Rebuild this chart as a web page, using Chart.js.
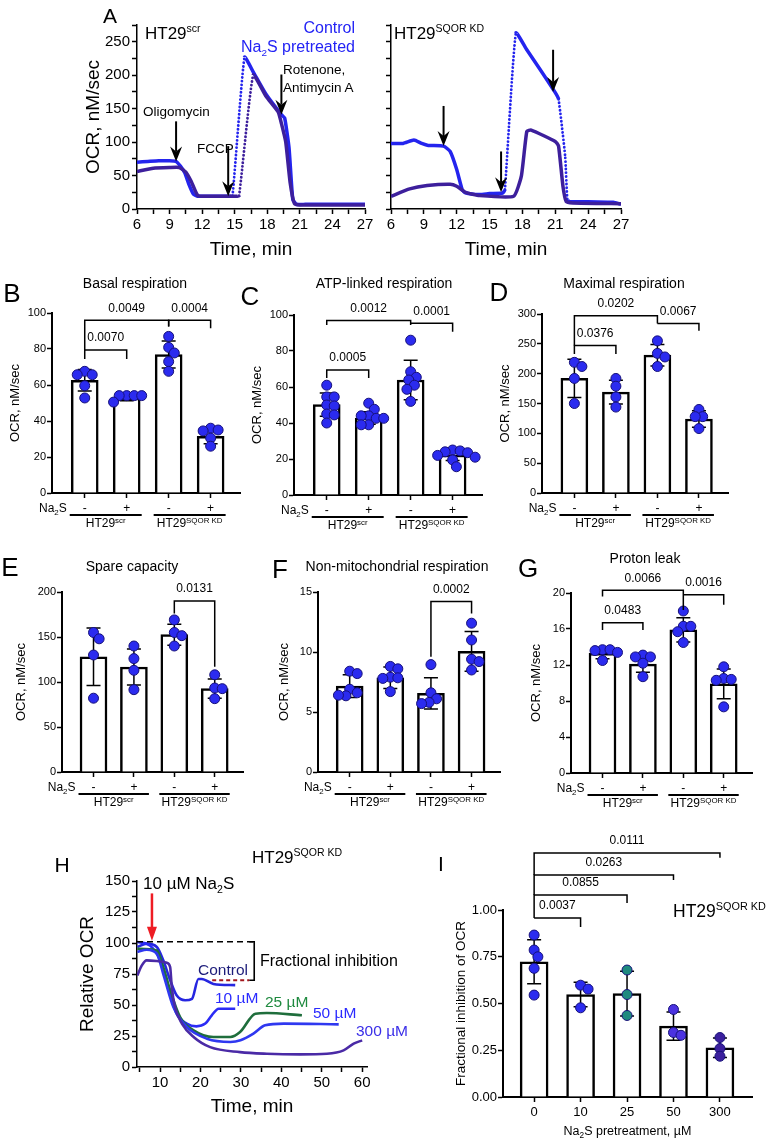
<!DOCTYPE html>
<html lang="en">
<head>
<meta charset="UTF-8">
<title>OCR in HT29 cells</title>
<script src="https://cdn.jsdelivr.net/npm/chart.js"></script>
<style>
  body { margin: 0; background: #fff; font-family: "Liberation Sans", Arial, sans-serif; color: #000; }
  #fig { position: relative; width: 774px; height: 1145px; overflow: hidden; background: #fff; }
  #fig canvas { position: absolute; }
  .t { position: absolute; white-space: nowrap; line-height: 1; transform: translateY(-50%); }
  .t.c { transform: translate(-50%, -50%); }
  .t.r { transform: translate(-100%, -50%); }
  .t sup, .t sub { font-size: 62%; line-height: 0; }
</style>
</head>
<body>
<div id="fig"></div>
<script>
// ---- panel A traces (time in min, OCR in nM/sec) ----
const scrCtrlT = [6, 7, 8, 9, 9.6, 10, 10.4, 10.8, 11.2, 11.6, 12.5, 13.5, 14.5, 14.8, 15.9, 16.7, 17.9, 19.3, 19.6, 20.0, 20.35, 20.7, 21.5, 23, 25, 27];
const scrCtrlY = [70, 71, 72, 72, 71, 64, 54, 36, 22, 19, 19, 19, 19, 20, 227, 205, 171, 141, 136, 92, 14, 7, 7, 7, 7, 7];
const scrNaT = [6, 7.5, 9, 9.9, 10.5, 11, 11.6, 12.5, 14, 15, 15.4, 16.7, 17.9, 19, 19.3, 19.7, 20.1, 20.5, 21, 23, 25, 27];
const scrNaY = [56, 61, 62, 62, 55, 41, 20, 19, 19, 19, 20, 200, 168, 145, 128, 100, 40, 8, 6, 6, 6, 6];
const kdCtrlT = [6, 7.1, 8.1, 8.8, 9.4, 10.8, 11.4, 12, 12.5, 12.8, 14.1, 15, 16.2, 16.4, 17.4, 18.4, 19.6, 21.0, 21.3, 21.9, 22.1, 22.3, 24, 26.3, 27];
const kdCtrlY = [98, 98, 103, 98, 95, 94, 86, 59, 29, 24, 21.5, 23, 24, 29, 263, 238, 209, 174, 164, 79, 14, 11, 11, 10, 7];
const kdNaT = [6, 7.7, 9.3, 11.4, 12, 12.8, 14.1, 17.2, 17.9, 18.4, 18.8, 21, 21.3, 21.7, 22, 22.6, 27];
const kdNaY = [19, 30, 35, 37, 34, 25, 20, 19, 49, 116, 118, 101, 94, 34, 11, 9, 8];
// stretches recorded sparsely (drawn dotted)
const scrCtrlSparse = [[14.8, 15.9]];
const scrNaSparse = [[15.4, 16.7]];
const kdCtrlSparse = [[16.4, 17.4], [21.3, 22.1]];
// injection arrows: [time, from OCR, to OCR]
const scrArrows = [[9.6, 131, 71], [14.4, 94, 19], [19.3, 201, 141]];
const kdArrows = [[10.8, 154, 94], [16.05, 86, 25], [20.8, 238, 175]];

// ---- panels B-G: mean, SD, single wells, significance [i, j, top, endI, endJ, p] ----
const treat = ['-', '+', '-', '+'];
const basalMean = [62.6, 52.8, 76.9, 31.5];
const basalSd = [6.0, 1.5, 7.5, 4.2];
const basalPts = [[67.6, 65.7, 65.7, 59.6, 52.8], [54.1, 54.1, 54.1, 54.1, 50.5], [87.0, 80.9, 77.8, 73.0, 67.6], [36.0, 35.0, 34.5, 30.5, 26.0]];
const basalSig = [[0, 1, 79.4, 74.5, 74.5, '0.0070'], [0, 2, 96, 79.4, 92.5, '0.0049'], [2, 3, 96, 92.5, 91.5, '0.0004']];

const atpMean = [50.2, 42.8, 63.9, 22.2];
const atpSd = [6.5, 3.5, 11.0, 3.0];
const atpPts = [[61, 54.5, 54.5, 50, 49.5, 45, 44.5, 40], [51, 47.6, 44, 44, 42.6, 42.6, 39, 39], [86, 68.5, 65.4, 63.9, 61, 58.7, 52], [25, 24.5, 24, 23.5, 22, 21, 19.5, 15.7]];
const atpSig = [[0, 1, 69.4, 65, 65, '0.0005'], [0, 2, 96.9, 94.4, 94.4, '0.0012'], [2, 3, 95.4, 95.4, 90.7, '0.0001']];

const maxMean = [192, 169, 231, 124];
const maxSd = [32, 20, 18, 14];
const maxPts = [[219, 212, 192, 150], [192, 179, 161, 144], [255, 234, 228, 212], [140, 128, 128, 108]];
const maxSig = [[0, 1, 247, 233, 233, '0.0376'], [0, 2, 297, 247, 284, '0.0202'], [2, 3, 284, 284, 272, '0.0067']];

const spareMean = [128, 116.7, 152.6, 92.6];
const spareSd = [32, 20, 11.7, 10.6];
const sparePts = [[155, 148, 130, 82], [140, 126, 113, 91.5], [169, 155, 151.5, 140], [108, 93.3, 92.6, 81.5]];
const spareSig = [[2, 3, 190, 176, 117, '0.0131']];

const nonMean = [7.15, 7.85, 6.55, 10.05];
const nonSd = [0.95, 0.9, 1.3, 1.65];
const nonPts = [[8.4, 8.2, 6.9, 6.6, 6.35, 6.4], [8.8, 8.6, 7.9, 7.85, 7.8, 6.7], [8.95, 6.6, 6.1, 5.8, 5.7], [12.4, 11.0, 9.4, 9.2, 8.5]];
const nonSig = [[2, 3, 14.2, 9.6, 13.2, '0.0002']];

const leakMean = [13.3, 12.1, 15.9, 9.9];
const leakSd = [0.6, 0.9, 1.35, 1.65];
const leakPts = [[13.7, 13.7, 13.6, 13.4, 12.5], [13.1, 12.9, 12.9, 12.2, 10.7], [18.0, 16.3, 16.3, 15.7, 14.5], [11.8, 10.5, 10.4, 10.3, 7.35]];
const leakSig = [[0, 1, 16.7, 15.9, 15.9, '0.0483'], [0, 2, 20.3, 19.6, 18.1, '0.0066'], [2, 3, 19.8, 19.8, 18.7, '0.0016']];

// ---- panel H: relative OCR after Na2S ----
const hCtrlT = [4.4, 6.7, 9.2, 10.8, 12.5, 14.1, 16.2, 17.9, 19.5, 20.3, 23.2, 28.6];
const hCtrlY = [96.8, 99.5, 96.8, 86, 70, 57.8, 53.8, 55, 71, 71, 67, 66];
const h10T = [4.4, 7.5, 10, 12.5, 14.1, 16.6, 19, 21.2, 22.8, 24.5, 28.6];
const h10Y = [100.8, 98, 86, 59, 43, 35, 32.8, 35, 41.7, 47, 47];
const h25T = [4.4, 9.2, 10.8, 12.5, 15, 18.3, 23.2, 27.4, 29.8, 33.6, 36.4, 45.1];
const h25Y = [95.4, 94, 80.6, 61.8, 40, 29.6, 24.2, 24.2, 28.2, 43, 43.5, 41.7];
const h50T = [4.4, 6.7, 9.2, 10.8, 13.3, 16.6, 21.6, 27.4, 29.9, 33.1, 36, 40.6, 54.2];
const h50Y = [92.7, 94.6, 91.4, 75, 48.4, 32.3, 22.8, 20.2, 21.5, 26.9, 33.6, 35, 34.4];
const h300T = [4.4, 5.5, 6.7, 9.2, 11.7, 12.5, 12.9, 13.7, 15.4, 18.3, 22.4, 29.8, 36.4, 44.7, 51.3, 55.4, 57.9, 60];
const h300Y = [73.9, 82, 86, 85.5, 84, 80.6, 64.5, 48.4, 35, 24.2, 16, 12, 10.7, 10.2, 10.7, 13.4, 18.8, 21.5];
const hBase = 101, hCtrlLevel = 70, hBracketT = 33.3, hRedFrom = 22.9, hAddT = 8.0, hArrowFrom = 140;

// ---- panel I: fractional inhibition ----
const doses = ['0', '10', '25', '50', '300'];
const fracMean = [0.723, 0.548, 0.553, 0.379, 0.263];
const fracSd = [0.118, 0.066, 0.12, 0.076, 0.052];
const fracPts = [[0.866, 0.786, 0.75, 0.688, 0.545], [0.598, 0.577, 0.477], [0.679, 0.548, 0.436], [0.468, 0.345, 0.33], [0.318, 0.259, 0.218]];
const fracSig = [[0, 4, 1.305, 1.187, 1.28, '0.0111'], [0, 3, 1.187, 1.08, 1.16, '0.0263'], [0, 2, 1.08, 0.957, 1.037, '0.0855'], [0, 1, 0.957, 0.957, 0.909, '0.0037']];

const FONT = '"Liberation Sans", Arial, sans-serif';
const BLUE = '#2424ee', INDIGO = '#3d1f9c', DOT = '#2b2bef', DOT_EDGE = '#17117a';
const NA2S = [['Na', 'n'], ['2', 'sub'], ['S', 'n']];
const SCR = [['HT29', 'n'], ['scr', 'sup']];
const KD = [['HT29', 'n'], ['SQOR KD', 'sup']];

Chart.defaults.font.family = FONT;
Chart.defaults.color = '#000';
const fig = document.getElementById('fig');

function range(a, b, s) { const out = []; for (let v = a; v <= b + 1e-9; v += s) out.push(+v.toFixed(4)); return out; }

function canvasAt(r) {
  const cv = document.createElement('canvas');
  cv.width = r.w; cv.height = r.h;
  cv.style.left = r.x + 'px'; cv.style.top = r.y + 'px';
  cv.style.width = r.w + 'px'; cv.style.height = r.h + 'px';
  fig.appendChild(cv);
  return cv.getContext('2d');
}

// padding so that the plot area lands on the wanted page box
function padFor(r, a, yW, xH) {
  return { left: a.l - r.x - yW, top: a.t - r.y, right: r.x + r.w - a.r, bottom: r.y + r.h - a.b - xH };
}

function axis(o) {
  const horiz = o.pos === 'bottom';
  return {
    type: 'linear', position: o.pos, min: o.min, max: o.max, offset: false,
    afterFit: s => { if (horiz) s.height = o.size; else s.width = o.size; },
    afterBuildTicks: s => { s.ticks = o.ticks.map(v => ({ value: v })); },
    ticks: { display: o.labels !== false, autoSkip: false, maxRotation: 0, minRotation: 0, font: { size: o.font }, color: '#000', padding: o.pad, callback: o.fmt || (v => v) },
    grid: { offset: false, drawOnChartArea: false, drawTicks: true, tickLength: o.tick, tickWidth: 1.5, tickColor: '#000' },
    border: { display: true, color: '#000', width: o.line },
    title: { display: !!o.title, text: o.title || '', font: { size: o.tfont }, color: '#000', padding: 0 }
  };
}

function rich(g, parts, x, y, size, align) {
  const sz = k => (k === 'n' ? size : size * 0.66);
  let w = 0;
  parts.forEach(([s, k]) => { g.font = sz(k) + 'px ' + FONT; w += g.measureText(s).width; });
  let cx = align === 'center' ? x - w / 2 : align === 'right' ? x - w : x;
  g.textAlign = 'left'; g.textBaseline = 'middle';
  parts.forEach(([s, k]) => {
    g.font = sz(k) + 'px ' + FONT;
    const dy = k === 'sup' ? -size * 0.3 : k === 'sub' ? size * 0.3 : 0;
    g.fillText(s, cx, y + dy);
    cx += g.measureText(s).width;
  });
}

// simple beeswarm, returns pixel offsets (dots may overlap a little, as in Prism)
function swarm(vals, pxY, d) {
  const placed = [];
  return vals.map(v => {
    const py = v * pxY;
    let off = 0;
    for (let n = 0; n < 60; n++) {
      const c = n === 0 ? 0 : (n % 2 ? 1 : -1) * Math.ceil(n / 2) * d / 4;
      if (placed.every(q => Math.hypot(q.x - c, q.y - py) >= d)) { off = c; break; }
    }
    placed.push({ x: off, y: py });
    return off;
  });
}

function barPanel(p) {
  const ctx = canvasAt(p.rect);
  const [xMin, xMax] = p.xr;
  const pxY = (p.area.b - p.area.t) / p.yMax;
  const pxX = (p.area.r - p.area.l) / (xMax - xMin);
  const dots = [];
  p.pts.forEach((vals, i) => {
    const offs = swarm(vals, pxY, 7.5);
    vals.forEach((v, k) => dots.push({ x: i + offs[k] / pxX, y: v, c: p.dotColors ? p.dotColors[i] : DOT }));
  });
  const deco = {
    id: 'deco',
    afterDatasetDraw(chart, args) {
      if (args.meta.type !== 'bar') return;
      const { ctx: g, scales: { x, y } } = chart;
      g.save(); g.strokeStyle = '#000'; g.lineWidth = 1.5;
      p.means.forEach((m, i) => {
        const cx = x.getPixelForValue(i), y1 = y.getPixelForValue(m + p.sds[i]), y2 = y.getPixelForValue(m - p.sds[i]);
        g.beginPath();
        g.moveTo(cx, y1); g.lineTo(cx, y2);
        g.moveTo(cx - 7, y1); g.lineTo(cx + 7, y1);
        g.moveTo(cx - 7, y2); g.lineTo(cx + 7, y2);
        g.stroke();
      });
      g.restore();
    },
    afterDraw(chart) {
      const { ctx: g, scales: { x, y }, chartArea: a } = chart;
      g.save(); g.strokeStyle = g.fillStyle = '#000'; g.lineWidth = 1.5;
      p.sig.forEach(([i, j, top, yi, yj, txt]) => {
        const xi = x.getPixelForValue(i), xj = x.getPixelForValue(j), yt = y.getPixelForValue(top);
        g.beginPath();
        g.moveTo(xi, y.getPixelForValue(yi)); g.lineTo(xi, yt); g.lineTo(xj, yt); g.lineTo(xj, y.getPixelForValue(yj));
        g.stroke();
        g.font = '12px ' + FONT; g.textAlign = 'center'; g.textBaseline = 'middle';
        g.fillText(txt, (xi + xj) / 2, yt - 12);
      });
      if (p.groups) {
        g.lineWidth = 2;
        rich(g, NA2S, x.getPixelForValue(0) - 18, a.bottom + 16, 12, 'right');
        p.groups.forEach(([i, j, parts]) => {
          const xi = x.getPixelForValue(i) - 15, xj = x.getPixelForValue(j) + 15;
          g.beginPath(); g.moveTo(xi, a.bottom + 22); g.lineTo(xj, a.bottom + 22); g.stroke();
          rich(g, parts, (xi + xj) / 2, a.bottom + 31, 12, 'center');
        });
      }
      if (p.xTitle) rich(g, p.xTitle, (a.left + a.right) / 2, p.xTitleY - p.rect.y, 12.5, 'center');
      g.restore();
    }
  };
  new Chart(ctx, {
    type: 'bar',
    data: {
      datasets: [
        { type: 'scatter', data: dots.map(d => ({ x: d.x, y: d.y })), pointRadius: 5, pointBackgroundColor: dots.map(d => d.c), pointBorderColor: DOT_EDGE, pointBorderWidth: 1, order: 0 },
        { type: 'bar', data: p.means.map((m, i) => ({ x: i, y: m })), backgroundColor: '#fff', borderColor: '#000', borderWidth: 2.5, barThickness: p.barW, borderSkipped: 'start', order: 2 }
      ]
    },
    options: {
      responsive: false, animation: false,
      layout: { padding: padFor(p.rect, p.area, p.yW, p.xH) },
      plugins: { legend: { display: false }, tooltip: { enabled: false } },
      scales: {
        x: axis({ pos: 'bottom', min: xMin, max: xMax, ticks: p.means.map((m, i) => i), fmt: v => p.xLabels[v], font: p.xFont, pad: 3, tick: 5, line: 2, size: p.xH }),
        y: axis({ pos: 'left', min: 0, max: p.yMax, ticks: p.yTicks, fmt: p.yFmt, font: p.yFont, pad: 1, tick: 5, line: 2, size: p.yW, title: p.yTitle, tfont: p.yTitleSize })
      }
    },
    plugins: [deco]
  });
}

function tracePanel(p) {
  const ctx = canvasAt(p.rect);
  const inSparse = (c, rs) => rs.some(([a, b]) => c.p0.parsed.x >= a - 1e-6 && c.p1.parsed.x <= b + 1e-6);
  new Chart(ctx, {
    type: 'line',
    data: {
      datasets: p.series.map(s => ({
        data: s.t.map((t, i) => ({ x: t, y: s.y[i] })),
        borderColor: s.color, borderWidth: p.lw, pointRadius: 0, fill: false,
        tension: p.tension, cubicInterpolationMode: p.mono ? 'monotone' : 'default',
        segment: {
          borderDash: c => (s.sparse && inSparse(c, s.sparse) ? [0.1, 3.6] : undefined),
          borderCapStyle: c => (s.sparse && inSparse(c, s.sparse) ? 'round' : undefined),
          borderWidth: c => (s.sparse && inSparse(c, s.sparse) ? 2.8 : undefined)
        }
      }))
    },
    options: {
      responsive: false, animation: false,
      layout: { padding: padFor(p.rect, p.area, p.y.size, p.x.size) },
      plugins: { legend: { display: false }, tooltip: { enabled: false } },
      scales: { x: axis(Object.assign({ pos: 'bottom' }, p.x)), y: axis(Object.assign({ pos: 'left' }, p.y)) }
    },
    plugins: [p.deco]
  });
}

function arrowDeco(arrows) {
  return {
    id: 'arrows',
    afterDatasetsDraw(chart) {
      const { ctx: g, scales: { x, y } } = chart;
      g.save(); g.strokeStyle = g.fillStyle = '#000'; g.lineWidth = 2;
      arrows.forEach(([t, a, b]) => {
        const px = x.getPixelForValue(t), p1 = y.getPixelForValue(a), p2 = y.getPixelForValue(b);
        g.beginPath(); g.moveTo(px, p1); g.lineTo(px, p2 - 10); g.stroke();
        g.beginPath(); g.moveTo(px - 6, p2 - 15); g.lineTo(px, p2 - 10); g.lineTo(px + 6, p2 - 15); g.lineTo(px, p2); g.closePath(); g.fill();
      });
      g.restore();
    }
  };
}

// ---------- A ----------
const aX = { min: 6, max: 27, ticks: range(6, 27, 1.5), fmt: v => (v % 3 === 0 ? v : ''), font: 15, pad: 2, tick: 5, line: 1.5, size: 52, title: 'Time, min', tfont: 19 };
tracePanel({
  rect: { x: 0, y: 0, w: 380, h: 270 }, area: { l: 137, t: 25, r: 365, b: 209 }, lw: 3.5, tension: 0.15,
  x: aX,
  y: { min: 0, max: 275, ticks: range(0, 275, 25), fmt: v => (v % 50 === 0 ? v : ''), font: 15, pad: 2, tick: 5, line: 1.5, size: 55, title: 'OCR, nM/sec', tfont: 19 },
  series: [
    { t: scrNaT, y: scrNaY, color: INDIGO, sparse: scrNaSparse },
    { t: scrCtrlT, y: scrCtrlY, color: BLUE, sparse: scrCtrlSparse }
  ],
  deco: arrowDeco(scrArrows)
});
tracePanel({
  rect: { x: 300, y: 0, w: 474, h: 270 }, area: { l: 391, t: 25, r: 621, b: 209 }, lw: 3.5, tension: 0.15,
  x: aX,
  y: { min: 0, max: 275, ticks: range(0, 275, 25), labels: false, font: 15, pad: 2, tick: 5, line: 1.5, size: 10 },
  series: [
    { t: kdNaT, y: kdNaY, color: INDIGO },
    { t: kdCtrlT, y: kdCtrlY, color: BLUE, sparse: kdCtrlSparse }
  ],
  deco: arrowDeco(kdArrows)
});

// ---------- B-G ----------
const common = { xr: [-0.78, 3.7], barW: 27, xH: 20, xLabels: treat, xFont: 12, yFont: 11, yTitle: 'OCR, nM/sec', yTitleSize: 13, groups: [[0, 1, SCR], [2, 3, KD]] };
barPanel(Object.assign({}, common, { rect: { x: 0, y: 290, w: 255, h: 250 }, area: { l: 52, t: 313, r: 240, b: 493 }, yW: 44, yMax: 100, yTicks: range(0, 100, 20), means: basalMean, sds: basalSd, pts: basalPts, sig: basalSig }));
barPanel(Object.assign({}, common, { rect: { x: 250, y: 290, w: 255, h: 250 }, area: { l: 294, t: 315, r: 482, b: 495 }, yW: 44, yMax: 100, yTicks: range(0, 100, 20), means: atpMean, sds: atpSd, pts: atpPts, sig: atpSig }));
barPanel(Object.assign({}, common, { rect: { x: 495, y: 290, w: 279, h: 250 }, area: { l: 542, t: 314, r: 728, b: 493 }, yW: 44, yMax: 300, yTicks: range(0, 300, 50), means: maxMean, sds: maxSd, pts: maxPts, sig: maxSig }));
barPanel(Object.assign({}, common, { rect: { x: 0, y: 570, w: 255, h: 250 }, area: { l: 62, t: 592, r: 243, b: 772 }, yW: 48, yMax: 200, yTicks: range(0, 200, 50), means: spareMean, sds: spareSd, pts: sparePts, sig: spareSig }));
barPanel(Object.assign({}, common, { rect: { x: 255, y: 570, w: 260, h: 250 }, area: { l: 318, t: 592, r: 500, b: 772 }, yW: 41, yMax: 15, yTicks: range(0, 15, 5), means: nonMean, sds: nonSd, pts: nonPts, sig: nonSig }));
barPanel(Object.assign({}, common, { rect: { x: 510, y: 565, w: 264, h: 255 }, area: { l: 571, t: 593, r: 752, b: 773 }, yW: 42, yMax: 20, yTicks: range(0, 20, 4), means: leakMean, sds: leakSd, pts: leakPts, sig: leakSig }));

// ---------- H ----------
const hDeco = {
  id: 'hdeco',
  afterDatasetsDraw(chart) {
    const { ctx: g, scales: { x, y } } = chart;
    const X = v => x.getPixelForValue(v), Y = v => y.getPixelForValue(v);
    g.save();
    g.lineWidth = 1.6; g.strokeStyle = '#000';
    g.setLineDash([6, 4]);
    g.beginPath(); g.moveTo(X(x.min), Y(hBase)); g.lineTo(X(hBracketT), Y(hBase)); g.stroke();
    g.setLineDash([]);
    g.beginPath(); g.moveTo(X(hBracketT) - 5, Y(hBase)); g.lineTo(X(hBracketT), Y(hBase)); g.lineTo(X(hBracketT), Y(hCtrlLevel)); g.lineTo(X(hBracketT) - 5, Y(hCtrlLevel)); g.stroke();
    g.strokeStyle = '#a3161c'; g.lineWidth = 2; g.setLineDash([4, 3]);
    g.beginPath(); g.moveTo(X(hRedFrom), Y(hCtrlLevel)); g.lineTo(X(hBracketT) - 5, Y(hCtrlLevel)); g.stroke();
    g.setLineDash([]);
    g.strokeStyle = g.fillStyle = '#ee1c24'; g.lineWidth = 2.5;
    const ax = X(hAddT), a1 = Y(hArrowFrom), a2 = Y(hBase) - 1;
    g.beginPath(); g.moveTo(ax, a1); g.lineTo(ax, a2 - 10); g.stroke();
    g.beginPath(); g.moveTo(ax - 5, a2 - 14); g.lineTo(ax + 5, a2 - 14); g.lineTo(ax, a2); g.closePath(); g.fill();
    g.restore();
  }
};
tracePanel({
  rect: { x: 0, y: 850, w: 420, h: 295 }, area: { l: 137, t: 881, r: 367, b: 1067 }, lw: 2.6, tension: 0.4, mono: true,
  x: { min: 4.3, max: 61.2, ticks: range(5, 60, 5), fmt: v => (v % 10 === 0 ? v : ''), font: 15, pad: 2, tick: 5, line: 1.5, size: 51, title: 'Time, min', tfont: 19 },
  y: { min: 0, max: 150, ticks: range(0, 150, 12.5), fmt: v => (v % 25 === 0 ? v : ''), font: 15, pad: 2, tick: 5, line: 1.5, size: 61, title: 'Relative OCR', tfont: 19 },
  series: [
    { t: h300T, y: h300Y, color: '#4a2aa6' },
    { t: h50T, y: h50Y, color: '#2f38f0' },
    { t: h25T, y: h25Y, color: '#1f6e3c' },
    { t: h10T, y: h10Y, color: '#2b2bf5' },
    { t: hCtrlT, y: hCtrlY, color: '#2626e0' }
  ],
  deco: hDeco
});

// ---------- I ----------
barPanel({
  rect: { x: 390, y: 825, w: 384, h: 320 }, area: { l: 503, t: 910, r: 752, b: 1097 }, xr: [-0.67, 4.69], barW: 28,
  yW: 50, xH: 25, yMax: 1, yTicks: range(0, 1, 0.25), yFmt: v => v.toFixed(2), yFont: 13, yTitle: 'Fractional inhibition of OCR', yTitleSize: 13.5,
  xLabels: doses, xFont: 13, means: fracMean, sds: fracSd, pts: fracPts, sig: fracSig,
  dotColors: ['#2b2bef', '#2b2bef', '#1f8a7f', '#4b32e0', '#3b1f9e'],
  xTitle: NA2S.concat([[' pretreatment, \u00b5M', 'n']]), xTitleY: 1132
});

// ---------- text labels ----------
const notes = [
  ['A', 110, 15, 21, 'c'],
  ['HT29<sup>scr</sup>', 145, 33, 17],
  ['Control', 355, 28, 16, 'r', '#2323f5'],
  ['Na<sub>2</sub>S pretreated', 355, 47, 16, 'r', '#2323f5'],
  ['Rotenone,', 283, 70, 13.5],
  ['Antimycin A', 283, 88, 13.5],
  ['Oligomycin', 143, 112, 13.5],
  ['FCCP', 197, 149, 13.5],
  ['HT29<sup>SQOR KD</sup>', 394, 33, 17],
  ['B', 12, 293, 26, 'c'], ['C', 250, 296, 26, 'c'], ['D', 499, 292, 26, 'c'],
  ['Basal respiration', 135, 283, 14, 'c'], ['ATP-linked respiration', 384, 283, 14, 'c'], ['Maximal respiration', 624, 283, 14, 'c'],
  ['E', 10, 567, 26, 'c'], ['F', 280, 569, 26, 'c'], ['G', 528, 568, 26, 'c'],
  ['Spare capacity', 132, 566, 14, 'c'], ['Non-mitochondrial respiration', 397, 566, 14, 'c'], ['Proton leak', 645, 558, 14, 'c'],
  ['H', 62, 864, 21, 'c'], ['HT29<sup>SQOR KD</sup>', 252, 857, 17], ['I', 441, 863, 21, 'c'],
  ['10 \u00b5M Na<sub>2</sub>S', 143, 883, 17],
  ['Fractional inhibition', 260, 961, 16],
  ['Control', 198, 970, 15.5, '', '#1c1c7a'],
  ['10 \u00b5M', 215, 998, 15.5, '', '#2a2aff'],
  ['25 \u00b5M', 265, 1002, 15.5, '', '#1f8a3f'],
  ['50 \u00b5M', 313, 1013, 15.5, '', '#2a2aff'],
  ['300 \u00b5M', 356, 1031, 15.5, '', '#3a2ee8'],
  ['HT29<sup>SQOR KD</sup>', 673, 912, 17.5]
];
notes.forEach(([html, x, y, size, al, color]) => {
  const d = document.createElement('div');
  d.className = 't ' + (al || '');
  d.innerHTML = html;
  d.style.left = x + 'px'; d.style.top = y + 'px'; d.style.fontSize = size + 'px';
  if (color) d.style.color = color;
  fig.appendChild(d);
});
</script>
</body>
</html>
